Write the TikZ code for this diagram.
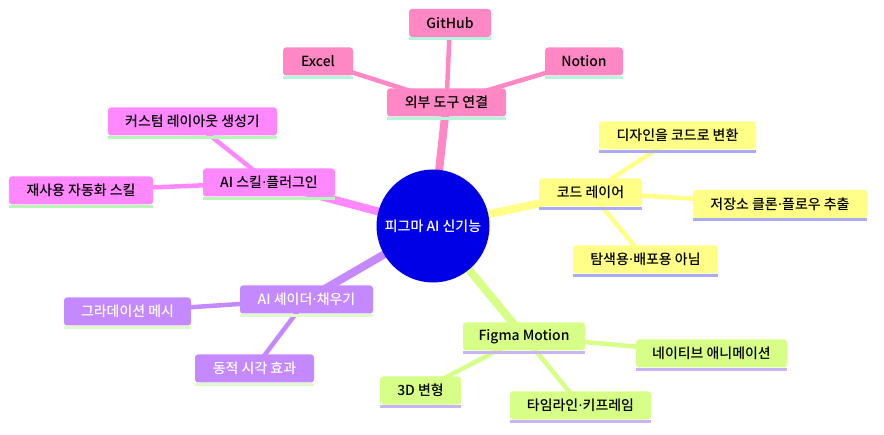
\documentclass[tikz,border=0pt]{standalone}
\usepackage{fontspec}
\setmainfont{Noto Sans CJK KR}[UprightFont={* Medium}]
\newfontfamily\dotfont{DejaVu Sans}
\newcommand\middot{{\dotfont ·}}
\usepackage{xcolor}
\usetikzlibrary{backgrounds}

\definecolor{rootblue}{HTML}{0000E6}
\definecolor{pinkfill}{HTML}{FF88C4}
\definecolor{pinkline}{HTML}{B4F5DC}
\definecolor{magfill}{HTML}{FF88FF}
\definecolor{magline}{HTML}{B8F5B8}
\definecolor{yelfill}{HTML}{FFFF88}
\definecolor{yelline}{HTML}{AAAAF5}
\definecolor{purfill}{HTML}{C488FF}
\definecolor{purline}{HTML}{E2F8CA}
\definecolor{limefill}{HTML}{D7FF88}
\definecolor{limeline}{HTML}{C8B4F5}

\begin{document}
\begin{tikzpicture}[x=1bp, y=-1bp,
    every node/.style={font=\fontsize{14}{16}\selectfont, inner sep=0pt},
    topic/.style={circle, fill=rootblue, text=white, minimum size=113bp},
    idea/.style 2 args={rectangle, rounded corners=3bp, fill=#1, minimum height=28bp,
        append after command={([yshift=-1.5bp]\tikzlastnode.south west)
            edge[draw=#2, line width=3bp] ([yshift=-1.5bp]\tikzlastnode.south east)}},
    pinkbox/.style={idea={pinkfill}{pinkline}},
    magbox/.style={idea={magfill}{magline}},
    yelbox/.style={idea={yelfill}{yelline}},
    purbox/.style={idea={purfill}{purline}, text=white},
    limebox/.style={idea={limefill}{limeline}},
    trunk/.style={line width=8bp, draw=#1},
    twig/.style={line width=4.5bp, draw=#1}]
    \useasboundingbox (0,0) rectangle (884,435);

    % centre
    \node[topic] (root) at (433,226) {피그마 AI 신기능};

    % external tools
    \node[pinkbox, minimum width=119bp] (tools) at (446.5,102.5) {외부 도구 연결};
    \node[pinkbox, minimum width=82bp] (github) at (450,23) {GitHub};
    \node[pinkbox, minimum width=70bp] (excel) at (318,61.5) {Excel};
    \node[pinkbox, minimum width=78bp] (notion) at (584,61.5) {Notion};

    % skills and plugins
    \node[magbox, minimum width=132bp] (skill) at (269,182.5) {AI 스킬\middot 플러그인};
    \node[magbox, minimum width=169bp] (layout) at (192.5,121.5) {커스텀 레이아웃 생성기};
    \node[magbox, minimum width=144bp] (reuse) at (81,190.5) {재사용 자동화 스킬};

    % code layer
    \node[yelbox, minimum width=103bp] (code) at (590.5,192.5) {코드 레이어};
    \node[yelbox, minimum width=157bp] (convert) at (677.5,135.5) {디자인을 코드로 변환};
    \node[yelbox, minimum width=174bp] (clone) at (780,204) {저장소 클론\middot 플로우 추출};
    \node[yelbox, minimum width=145bp] (explore) at (645.5,259.5) {탐색용\middot 배포용 아님};

    % shaders
    \node[purbox, minimum width=133bp] (shader) at (306.5,299.5) {AI 셰이더\middot 채우기};
    \node[purbox, minimum width=127bp] (mesh) at (127.5,311.5) {그라데이션 메시};
    \node[purbox, minimum width=119bp] (effect) at (254.5,368.5) {동적 시각 효과};

    % motion
    \node[limebox, minimum width=122bp] (motion) at (524,336.5) {Figma Motion};
    \node[limebox, minimum width=151bp] (native) at (711.5,353.5) {네이티브 애니메이션};
    \node[limebox, minimum width=81bp] (depth) at (420.5,390.5) {3D 변형};
    \node[limebox, minimum width=141bp] (timeline) at (580.5,405.5) {타임라인\middot 키프레임};

    \begin{scope}[on background layer]
        \draw[trunk=pinkfill] (root.center) -- (tools.center);
        \draw[trunk=magfill] (root.center) -- (skill.center);
        \draw[trunk=yelfill] (root.center) -- (code.center);
        \draw[trunk=purfill] (root.center) -- (shader.center);
        \draw[trunk=limefill] (root.center) -- (motion.center);

        \foreach \leaf in {github, excel, notion}
            \draw[twig=pinkfill] (tools.center) -- (\leaf.center);
        \foreach \leaf in {layout, reuse}
            \draw[twig=magfill] (skill.center) -- (\leaf.center);
        \foreach \leaf in {convert, clone, explore}
            \draw[twig=yelfill] (code.center) -- (\leaf.center);
        \foreach \leaf in {mesh, effect}
            \draw[twig=purfill] (shader.center) -- (\leaf.center);
        \foreach \leaf in {native, depth, timeline}
            \draw[twig=limefill] (motion.center) -- (\leaf.center);
    \end{scope}
\end{tikzpicture}
\end{document}
